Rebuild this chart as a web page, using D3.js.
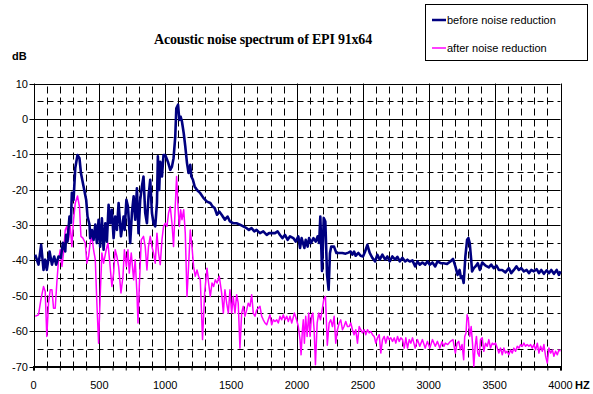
<!DOCTYPE html>
<html>
<head>
<meta charset="utf-8">
<script src="https://cdn.jsdelivr.net/npm/d3@7/dist/d3.min.js"></script>
<style>
  html, body { margin: 0; padding: 0; background: #fff; }
  svg { display: block; }
</style>
</head>
<body>
<svg id="chart" width="593" height="394"></svg>
<script>
// ---- data ----
const title = "Acoustic noise spectrum of EPI 91x64";
const seriesNames = ["before noise reduction", "after noise reduction"];
const xTicks = [0, 500, 1000, 1500, 2000, 2500, 3000, 3500, 4000];
const yTicks = [10, 0, -10, -20, -30, -40, -50, -60, -70];

const beforeHz = [13,38,58,76,89,101,122,140,157,172,190,208,223,241,248,258,273,284,291,304,317,334,349,360,380,400,410,425,430,443,456,469,481,494,506,519,532,545,557,570,582,595,608,620,633,646,664,684,692,705,717,734,747,760,772,785,797,810,823,835,848,861,873,886,899,911,924,937,944,954,962,975,987,1000,1020,1038,1051,1063,1076,1084,1097,1107,1117,1127,1140,1152,1165,1177,1190,1198,1210,1223,1241,1266,1291,1317,1342,1360,1375,1393,1410,1428,1453,1473,1491,1516,1541,1567,1592,1618,1635,1655,1676,1693,1719,1744,1770,1788,1808,1833,1853,1871,1889,1909,1929,1947,1972,1990,2010,2023,2035,2056,2066,2081,2092,2107,2125,2142,2157,2168,2177,2190,2203,2215,2228,2240,2250,2260,2281,2299,2319,2344,2369,2390,2407,2420,2433,2445,2466,2483,2501,2517,2534,2552,2572,2593,2610,2628,2648,2669,2686,2704,2724,2745,2762,2780,2800,2821,2838,2856,2876,2897,2914,2932,2952,2973,2990,3008,3028,3049,3066,3091,3113,3139,3164,3184,3202,3219,3234,3245,3255,3265,3278,3291,3301,3311,3322,3329,3342,3355,3372,3388,3406,3431,3456,3474,3494,3514,3532,3557,3582,3608,3626,3646,3666,3684,3702,3722,3743,3760,3778,3798,3819,3836,3854,3874,3895,3912,3930,3950,3971,3988,4000];
const beforeDb = [-38.4,-41.2,-35.6,-42.7,-39.8,-42.7,-37.5,-41.2,-38.9,-41.2,-38.9,-39.3,-35,-37.5,-32.8,-34.7,-27.6,-29.4,-20.9,-22.9,-13.9,-10.2,-11.1,-15.3,-19.1,-22.9,-27.6,-29.9,-33.7,-31.4,-34.2,-29.9,-35.1,-28.5,-36.1,-28.1,-37,-29.5,-34.7,-24.3,-29.5,-25.7,-33.7,-27.6,-31.4,-23.8,-33.2,-27.6,-31.4,-22.9,-24.8,-35.1,-26.6,-21.9,-28.5,-19.6,-32.3,-22.9,-19.1,-16.3,-26.6,-29.5,-21.9,-17.2,-26.6,-29.5,-30.4,-23.8,-10.6,-20.1,-12.1,-16.3,-10.2,-10.2,-12.1,-14.4,-13.5,-11.1,-5,3,4,-0.3,0.6,-0.8,-4,-7.8,-12.5,-15.3,-13,-16.3,-17.2,-19.1,-20.1,-21,-22.4,-23.4,-23.8,-24.8,-25.2,-27.1,-26.2,-27.1,-28.5,-27.6,-29,-29.5,-29.5,-29.9,-30.4,-30.9,-31.4,-30.9,-31.8,-31.4,-32.3,-31.8,-32.8,-32.3,-32.3,-32.3,-31.8,-32.8,-33.7,-32.8,-34.2,-33.2,-33.7,-34.7,-33.2,-36.5,-33.7,-36.5,-34.2,-36.1,-33.7,-35.1,-33.7,-34.7,-33.2,-35.1,-27.6,-43,-28,-29,-44,-48.3,-38,-36.1,-36.1,-37.9,-37.9,-37.9,-38.1,-37.8,-37.5,-38.4,-37.5,-38.7,-37.9,-38.7,-38.9,-37.5,-35.6,-37.9,-39.3,-40.3,-38.4,-39.8,-38.4,-39.8,-38.9,-40.3,-38.9,-39.8,-39,-40.3,-39.3,-40.3,-39.8,-40.3,-40,-41.7,-40.3,-41.2,-40.6,-41.2,-40.3,-41.2,-40.6,-41.7,-40.3,-40.8,-40.8,-41,-40.3,-39.6,-41.7,-44.1,-42.7,-45,-44.5,-46.4,-38.9,-34.2,-33.7,-35.1,-39.8,-43.1,-42.2,-41.7,-40.8,-42.7,-40.6,-41.5,-42,-41.2,-42.2,-41.5,-42.7,-42.7,-43.4,-42.2,-43.6,-42.7,-41.7,-42.7,-42.2,-43.1,-42.7,-43.6,-42.7,-43.1,-42.5,-43.6,-42.7,-43.8,-42.8,-43.6,-42.7,-43.8,-42.7,-44.1,-43.1];

const afterHz = [13,38,56,76,89,101,114,127,140,152,165,177,190,203,216,228,241,253,266,279,291,304,317,334,349,360,375,393,405,418,430,443,456,469,481,494,506,519,532,552,565,577,595,608,620,633,646,664,679,690,705,717,727,742,760,772,785,793,803,818,835,848,861,873,886,899,911,924,937,949,962,975,987,1000,1013,1025,1038,1051,1063,1076,1086,1097,1107,1117,1127,1140,1152,1165,1177,1190,1203,1215,1228,1241,1253,1266,1283,1299,1317,1329,1342,1355,1367,1380,1393,1410,1428,1441,1453,1466,1479,1491,1504,1516,1529,1542,1554,1567,1580,1592,1605,1618,1630,1643,1656,1668,1681,1694,1706,1719,1732,1744,1757,1770,1782,1795,1808,1820,1833,1846,1858,1871,1884,1896,1909,1922,1934,1947,1960,1980,1997,2010,2023,2031,2041,2048,2056,2066,2077,2089,2099,2110,2120,2130,2140,2153,2165,2178,2191,2203,2216,2230,2244,2256,2269,2282,2294,2307,2320,2332,2345,2357,2370,2383,2396,2408,2421,2433,2446,2459,2472,2484,2497,2510,2522,2535,2548,2560,2573,2586,2598,2611,2624,2636,2649,2662,2674,2687,2700,2712,2725,2738,2750,2763,2776,2788,2801,2814,2826,2839,2852,2864,2877,2897,2914,2932,2952,2973,2990,3008,3028,3049,3066,3084,3100,3115,3126,3144,3164,3184,3202,3215,3228,3240,3253,3265,3273,3283,3291,3301,3311,3322,3332,3342,3352,3362,3372,3383,3393,3406,3418,3431,3444,3456,3469,3482,3494,3507,3520,3532,3545,3558,3570,3583,3595,3608,3621,3634,3646,3659,3672,3684,3697,3710,3722,3735,3747,3760,3773,3786,3798,3811,3824,3836,3849,3862,3874,3887,3900,3912,3925,3938,3950,3963,3976,3988,4000];
const afterDb = [-55.8,-55.4,-51.1,-47.4,-48.8,-61.5,-52.1,-48.3,-48.3,-53.5,-53.5,-46.4,-39.8,-37,-41.7,-37.9,-31.4,-30.4,-34.2,-30.4,-36.1,-28.5,-23.8,-21.8,-24.8,-33.2,-33.7,-35.1,-40.8,-38.9,-35.1,-33.2,-37,-39.8,-52.1,-63.4,-50.2,-37.9,-40.8,-37,-35.1,-39.8,-47.4,-43.6,-37,-38.9,-41.7,-49.2,-44.5,-37,-41.7,-37,-43.6,-37.9,-45.5,-39.8,-49.2,-57.7,-47.4,-34.2,-33.2,-36.1,-42.7,-36.1,-33.2,-36.1,-37.9,-40.8,-32.3,-37.9,-41.2,-34.2,-30.4,-29.5,-30.4,-26.6,-24.8,-29.5,-36.1,-24.8,-16.3,-24.8,-30.4,-25.7,-28.5,-25.7,-32.3,-50.2,-41.7,-31.4,-36.1,-41.7,-44.5,-42.7,-44.5,-45.5,-62.4,-49.2,-42.2,-46.4,-50.2,-46.4,-47.4,-45.5,-46.4,-44.5,-49.2,-54.9,-48.3,-52.1,-54.9,-48.3,-54.9,-50.2,-54.9,-49.7,-52.1,-64.8,-54.9,-53,-55.8,-54,-52.1,-53,-49.7,-54.9,-55.8,-54,-53.5,-53,-55.8,-56.8,-57.7,-58.2,-56.8,-55.4,-58.2,-56.8,-57.3,-56.8,-57.7,-55.8,-56.8,-55.4,-56.8,-55.8,-57.3,-55.8,-57.7,-54.9,-56.8,-58.7,-62.4,-66.7,-59.6,-56.8,-63.4,-55.8,-61.5,-54.9,-61.5,-55.8,-54.9,-59.6,-69.5,-57.7,-54.9,-56.8,-54,-51.1,-50.2,-64,-57.7,-56.8,-58.7,-55.8,-63.4,-59.6,-57.7,-56.8,-59.6,-58.7,-57.3,-58.7,-58.7,-57.7,-59.6,-61,-59.6,-63.4,-58.7,-59.6,-60.5,-59.6,-61,-59.6,-60.5,-60.1,-61,-61.5,-63.4,-61.9,-61,-66.2,-62.4,-61.5,-63.4,-61.5,-62.4,-61.9,-62.9,-61.9,-63.4,-61.5,-62.9,-61.9,-62.4,-64.8,-61.9,-64.8,-62.4,-63.4,-61.9,-64.8,-62.4,-64.3,-62.4,-64.8,-62.9,-64.8,-62.4,-64.3,-62.9,-64.8,-63,-64.3,-63.4,-63.8,-62.9,-62.4,-66.2,-63.4,-62.9,-65.3,-63.8,-68.1,-61.5,-60.5,-55.4,-56.8,-61.5,-58.7,-63.4,-70,-64.3,-61.5,-66.2,-67.1,-62.4,-61.9,-65.7,-63.4,-64.3,-62.4,-64.8,-63.4,-63.8,-63.4,-64.8,-66.2,-64.8,-66.7,-64.8,-66.2,-65.7,-66.7,-65.3,-66.2,-64.8,-65.7,-64.3,-64.8,-63.8,-64.3,-63.4,-64.3,-63.8,-64.3,-63.8,-64.8,-63.8,-65.3,-63.4,-66.2,-64.3,-65.7,-63.8,-67.1,-69,-64.8,-66.2,-65.3,-67.1,-65.7,-66.7,-65.3,-65.7];

// ---- layout ----
const svg = d3.select("#chart");
const pL = 33.5, pR = 560.5, pT = 83.5, pB = 366.5;
const x = d3.scaleLinear().domain([0, 4000]).range([pL, pR]);
const y = d3.scaleLinear().domain([-70, 10]).range([pB, pT]);
const font = "Arial, 'Liberation Sans', sans-serif";

// minor grid
const g = svg.append("g");
const minorX = d3.range(100, 4000, 100).filter(v => v % 500 !== 0);
const minorY = d3.range(-65, 10, 10);
g.selectAll("line.mx").data(minorX).enter().append("line")
  .attr("x1", d => Math.round(x(d)) + 0.5).attr("x2", d => Math.round(x(d)) + 0.5)
  .attr("y1", pT).attr("y2", pB)
  .attr("stroke", "#000").attr("stroke-width", 1).attr("stroke-dasharray", "7,4").attr("stroke-dashoffset", -3);
g.selectAll("line.my").data(minorY).enter().append("line")
  .attr("x1", pL).attr("x2", pR)
  .attr("y1", d => Math.round(y(d)) + 0.5).attr("y2", d => Math.round(y(d)) + 0.5)
  .attr("stroke", "#000").attr("stroke-width", 1).attr("stroke-dasharray", "6,4").attr("stroke-dashoffset", -4);

// major grid
g.selectAll("line.Mx").data(xTicks).enter().append("line")
  .attr("x1", d => Math.round(x(d)) + 0.5).attr("x2", d => Math.round(x(d)) + 0.5)
  .attr("y1", pT).attr("y2", pB).attr("stroke", "#000").attr("stroke-width", 1);
g.selectAll("line.My").data(yTicks).enter().append("line")
  .attr("x1", pL - 4).attr("x2", pR)
  .attr("y1", d => Math.round(y(d)) + 0.5).attr("y2", d => Math.round(y(d)) + 0.5)
  .attr("stroke", "#000").attr("stroke-width", 1);

// x axis
const xAxis = d3.axisBottom(x).tickValues(d3.range(0, 4001, 100)).tickSize(4).tickFormat("");
svg.append("g").attr("transform", `translate(0,${pB})`).call(xAxis)
  .call(a => a.select(".domain").attr("stroke-width", 2))
  .call(a => a.selectAll(".tick line").attr("stroke", "#000"));
svg.append("g").selectAll("text").data(xTicks).enter().append("text")
  .attr("x", d => x(d)).attr("y", 389).attr("text-anchor", "middle")
  .attr("font-family", font).attr("font-size", 11).text(d => d);
svg.append("text").attr("x", 575).attr("y", 389).attr("font-family", font)
  .attr("font-size", 11).attr("font-weight", "bold").text("HZ");

// y axis labels
svg.append("g").selectAll("text").data(yTicks).enter().append("text")
  .attr("x", 28).attr("y", d => y(d) + 4).attr("text-anchor", "end")
  .attr("font-family", font).attr("font-size", 11).text(d => d);
svg.append("text").attr("x", 12).attr("y", 60).attr("font-family", font)
  .attr("font-size", 11).attr("font-weight", "bold").text("dB");

// lines
const beforeData = beforeHz.map((h, i) => [h, beforeDb[i]]);
const afterData = afterHz.map((h, i) => [h, afterDb[i]]);
const line = d3.line().x(d => x(d[0])).y(d => y(d[1]));
svg.append("path").datum(afterData).attr("d", line)
  .attr("fill", "none").attr("stroke", "#ff00ff").attr("stroke-width", 1.5).attr("stroke-linejoin", "round");
svg.append("path").datum(beforeData).attr("d", line)
  .attr("fill", "none").attr("stroke", "#000080").attr("stroke-width", 2.6).attr("stroke-linejoin", "round");

// title
svg.append("text").attr("x", 263).attr("y", 44).attr("text-anchor", "middle")
  .attr("font-family", "'Liberation Serif', 'Times New Roman', serif").attr("font-weight", "bold")
  .attr("font-size", 14).attr("letter-spacing", -0.2).text(title);

// legend
const lg = svg.append("g");
lg.append("rect").attr("x", 425.5).attr("y", 4.5).attr("width", 162).attr("height", 56)
  .attr("fill", "#fff").attr("stroke", "#000").attr("stroke-width", 1);
const colors = ["#000080", "#ff00ff"], widths = [2.5, 1.5], ly = [20, 48];
seriesNames.forEach((n, i) => {
  lg.append("line").attr("x1", 432).attr("x2", 446).attr("y1", ly[i]).attr("y2", ly[i])
    .attr("stroke", colors[i]).attr("stroke-width", widths[i]);
  lg.append("text").attr("x", 447).attr("y", ly[i] + 4).attr("font-family", font)
    .attr("font-size", 11).text(n);
});
</script>
</body>
</html>
